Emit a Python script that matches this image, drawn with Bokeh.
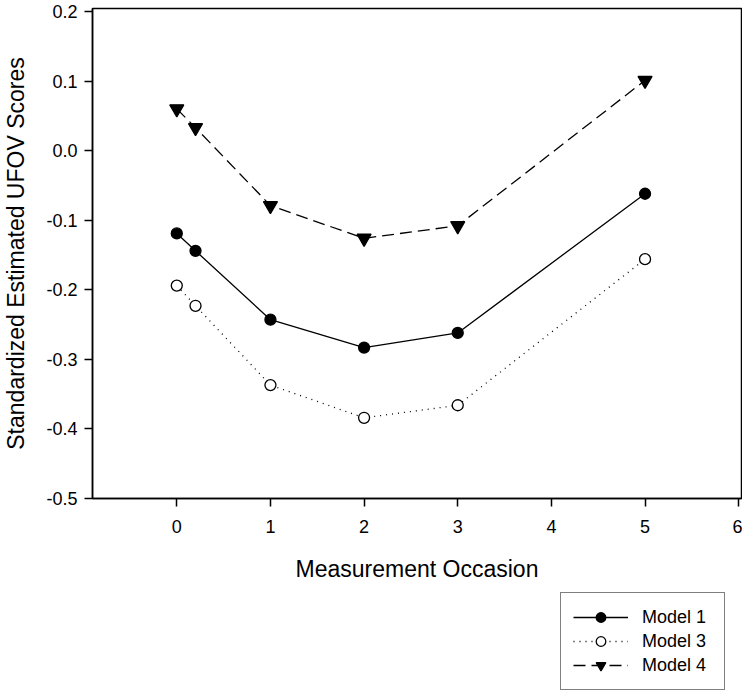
from bokeh.plotting import figure
from bokeh.layouts import column
from bokeh.models import Range1d, FixedTicker, Legend, LegendItem, NumeralTickFormatter
from bokeh.embed import file_html
from bokeh.resources import INLINE

# Data
occasion = [0, 0.2, 1, 2, 3, 5]
model1 = [-0.119, -0.144, -0.243, -0.283, -0.262, -0.062]
model3 = [-0.194, -0.223, -0.337, -0.384, -0.366, -0.156]
model4 = [0.060, 0.033, -0.079, -0.126, -0.108, 0.101]
labels = ["Model 1", "Model 3", "Model 4"]

x_ticks = [0, 1, 2, 3, 4, 5, 6]
y_ticks = [-0.5, -0.4, -0.3, -0.2, -0.1, 0.0, 0.1, 0.2]

FONT = "Liberation Sans"

p = figure(width=742, height=590, output_backend="svg", toolbar_location=None,
           x_range=Range1d(-0.9, 6.03), y_range=Range1d(-0.5, 0.2043),
           min_border_left=85, min_border_right=1, min_border_top=8,
           min_border_bottom=92)

p.grid.visible = False
p.background_fill_color = "white"
p.border_fill_color = "white"
p.outline_line_color = "black"
p.outline_line_width = 1.5

p.xaxis.ticker = FixedTicker(ticks=x_ticks)
p.yaxis.ticker = FixedTicker(ticks=y_ticks)
p.yaxis.formatter = NumeralTickFormatter(format="0.0")

for ax in (p.xaxis[0], p.yaxis[0]):
    ax.axis_line_color = "black"
    ax.axis_line_width = 1.5
    ax.major_tick_line_color = "black"
    ax.major_tick_line_width = 1.5
    ax.major_tick_out = 8
    ax.major_tick_in = 0
    ax.minor_tick_line_color = None
    ax.major_label_text_font = FONT
    ax.major_label_text_font_size = "18px"
    ax.major_label_text_color = "black"
    ax.axis_label_text_font = FONT
    ax.axis_label_text_font_size = "23px"
    ax.axis_label_text_font_style = "normal"
    ax.axis_label_text_color = "black"

p.xaxis.axis_label = "Measurement Occasion"
p.yaxis.axis_label = "Standardized Estimated UFOV Scores"
p.xaxis.major_label_standoff = 13
p.xaxis.axis_label_standoff = 20
p.yaxis.major_label_standoff = 7
p.yaxis.axis_label_standoff = 14

styles = [
    dict(dash="solid", marker="circle", size=11, fill="black"),
    dict(dash="1 5", marker="circle", size=11, fill="white"),
    dict(dash="12 6", marker="inverted_triangle", size=14, fill="black"),
]
series = [model1, model3, model4]

for ys, st in zip(series, styles):
    p.line(occasion, ys, line_color="black", line_width=1.3, line_dash=st["dash"])
    p.scatter(occasion, ys, marker=st["marker"], size=st["size"],
              fill_color=st["fill"], line_color="black", line_width=1.3)

# Legend lives in a small strip below the chart (outside the plot frame)
q = figure(width=742, height=104, output_backend="svg", toolbar_location=None,
           x_range=Range1d(-0.9, 6.03), y_range=Range1d(-0.5, 0.2043),
           x_axis_location=None, y_axis_location=None,
           min_border_left=85, min_border_right=1, min_border_top=0,
           min_border_bottom=0)
q.grid.visible = False
q.outline_line_color = None
q.background_fill_color = "white"
q.border_fill_color = "white"

items = []
for ys, st, lab in zip(series, styles, labels):
    ln = q.line(occasion, ys, line_color="black", line_width=1.3,
                line_dash=st["dash"], visible=False)
    sc = q.scatter(occasion, ys, marker=st["marker"], size=st["size"],
                   fill_color=st["fill"], line_color="black", line_width=1.3,
                   visible=False)
    items.append(LegendItem(label=lab, renderers=[ln, sc]))

legend = Legend(items=items, location=(468, 4))
legend.click_policy = "none"
legend.inactive_fill_alpha = 0
legend.margin = 0
legend.padding = 12
legend.spacing = 0
legend.glyph_width = 55
legend.glyph_height = 24
legend.label_height = 24
legend.label_width = 70
legend.label_standoff = 14
legend.label_text_font = FONT
legend.label_text_font_size = "18px"
legend.label_text_color = "black"
legend.border_line_color = "black"
legend.border_line_width = 1.5
legend.background_fill_color = "white"
legend.background_fill_alpha = 1.0
q.add_layout(legend, "center")

layout = column(p, q, spacing=0)
open("out.html", "w").write(file_html(layout, INLINE))
